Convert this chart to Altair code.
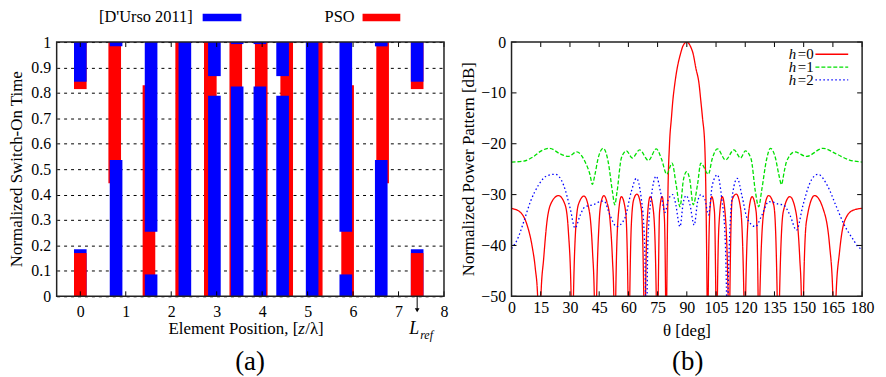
import altair as alt
import pandas as pd

FONT = "Liberation Serif"

# ---------------- Panel (a) data ----------------
durso_pos = [0.0, 0.787, 1.557, 2.30, 2.95, 3.45, 3.95, 4.45, 5.10, 5.84, 6.62, 7.41]
pso_pos = [0.0, 0.757, 1.51, 2.23, 2.86, 3.42, 3.98, 4.54, 5.19, 5.88, 6.65, 7.41]
durso_on = [0.844, 0.983, 0.254, 0.0, 0.866, 0.992, 0.992, 0.866, 0.0, 0.254, 0.983, 0.844]
durso_off = [0.185, 0.536, 0.086, 1.0, 0.789, 0.825, 0.825, 0.789, 1.0, 0.086, 0.536, 0.185]
pso_on = [0.815, 0.445, 0.0, 0.0, 0.0, 0.0, 0.0, 0.0, 0.0, 0.0, 0.445, 0.815]
pso_off = [0.17, 1.0, 0.83, 1.0, 1.0, 1.0, 1.0, 1.0, 1.0, 0.83, 1.0, 0.17]
a_xticks = [0, 1, 2, 3, 4, 5, 6, 7, 8]
a_yticks = [0, 0.1, 0.2, 0.3, 0.4, 0.5, 0.6, 0.7, 0.8, 0.9, 1]
lref_pos = 7.41
series_names = ["[D'Urso 2011]", "PSO"]
series_colors = ["#0000ff", "#ff0000"]

# ---------------- Panel (b) data ----------------
h0_points = [(0, -32.7), (4.6, -33.5), (8, -36), (10.5, -40), (12.2, -44.5), (13.4, -50), (14.2, -65), (15.1, -50),
             (16.5, -42.6), (18.2, -35.3), (20.7, -31.4), (24.1, -30.2), (27.5, -32), (29.2, -37.3), (30.6, -50),
             (31.2, -65), (31.8, -50), (32.6, -39.3), (34.3, -32), (37.2, -30.3), (40, -33.4), (41.6, -41.3),
             (42.5, -50), (43.1, -65), (43.7, -50), (44.9, -36), (46, -31.5), (47.4, -30.2), (49, -31.5),
             (50.5, -34.7), (51.8, -42.6), (52.5, -50), (53, -65), (53.5, -50), (54.7, -34.7), (56.4, -30.4),
             (58.6, -33.4), (59.8, -50), (60.2, -65), (60.7, -50), (61.5, -36), (62.7, -31), (64.4, -29.9),
             (66.6, -32.7), (67.9, -50), (68.3, -65), (68.8, -50), (69.5, -36), (71.2, -30.4), (72.9, -33.4),
             (74.3, -50), (74.8, -65), (75.3, -50), (76, -33.4), (77.3, -30.4), (78.5, -34.7), (79.1, -50),
             (79.4, -65), (79.7, -50), (80.3, -30), (81.1, -20.2), (82.1, -14.9), (82.8, -11.6), (83.8, -8.3),
             (85.1, -5.05), (86.7, -2.4), (88, -0.8), (90, 0), (91.8, -0.8), (93.3, -2.4), (94.6, -5.05),
             (96.3, -8.3), (97.2, -11.6), (98.05, -14.9), (99.2, -20.2), (99.8, -30), (100.4, -50), (100.7, -65),
             (101.0, -50), (101.8, -33.4), (102.8, -30.4), (104.2, -33.4), (104.9, -50), (105.3, -65),
             (105.7, -50), (106.5, -36), (108.2, -30.4), (109.6, -33.4), (111.2, -50), (111.7, -65), (112.1, -50),
             (113.3, -31), (115.4, -29.9), (117.6, -32.7), (119.3, -50), (119.8, -65), (120.2, -50),
             (121.8, -33.4), (123.5, -30.4), (125.6, -33.4), (126.6, -50), (127, -65), (127.5, -50),
             (129.5, -33.4), (132, -30.2), (134.6, -32), (135.6, -37.3), (136.4, -50), (137, -65), (137.6, -50),
             (139.5, -33.4), (142.9, -30.4), (146, -33.4), (148, -42.6), (148.8, -50), (149.3, -65), (149.9, -50),
             (151.4, -35.3), (155.6, -30.2), (159.9, -32.7), (163.3, -40), (165, -50), (165.8, -65), (166.6, -50),
             (168.4, -41.3), (170.9, -35.3), (175.2, -33.1), (180, -32.7)]

h1_points = [(0, -23.6), (6.3, -23.4), (11.4, -22.5), (14.8, -21.5), (19.6, -20.9), (25, -22), (29.2, -22.5),
             (33.5, -21.6), (37.7, -23.5), (40.3, -26.1), (41.5, -28), (42.8, -26.1), (44.5, -22.8), (47.1, -20.9),
             (49.6, -23.5), (51.8, -29.4), (53, -32), (54.2, -29.4), (56.4, -22.8), (59, -21.4), (62, -22.8),
             (65.8, -21.2), (70.3, -23.3), (74.3, -21), (77, -23), (79.7, -26), (82.4, -23.8), (84.5, -28),
             (86.5, -32.4), (88.3, -27), (89.9, -25.5), (91.5, -27), (93.3, -32), (95.5, -28), (97.2, -23.8),
             (101.1, -26), (103, -23), (105.7, -21), (109.9, -23.2), (114.2, -21.2), (117.6, -22.8),
             (120.1, -21.4), (123, -23), (125.2, -29.4), (126.9, -32.4), (128.5, -29), (131, -23), (132.9, -20.9),
             (135.5, -22.8), (137.2, -26), (138.6, -28), (140, -25.5), (141.2, -23.5), (145.4, -21.6),
             (151.4, -22.5), (159.9, -20.9), (166.7, -22), (173.5, -23.2), (180, -23.6)]

h2_points = [(0, -40.6), (2.9, -38.9), (6.3, -35.3), (9.7, -31.4), (13.9, -28.1), (18.2, -26.3), (22.4, -26),
             (26.7, -28.1), (30.1, -32.7), (32.6, -36.6), (35.3, -34), (37.7, -32.4), (42, -32), (46.2, -31.3),
             (47.5, -31.3), (50.5, -34), (53.9, -36.3), (58.1, -34.7), (61.5, -29.4), (64.1, -26.8), (66.6, -30.7),
             (68.3, -39.3), (68.8, -50), (69.2, -62), (69.6, -50), (70, -39.3), (71.7, -30.7), (74.3, -26.4),
             (76.8, -30), (78.8, -33.5), (80.5, -31), (82.8, -30), (84.1, -31.5), (86.5, -36.3), (88.2, -31.5),
             (89.7, -30.2), (91.6, -32), (93.8, -36), (95.5, -31.5), (97.2, -30), (99.3, -31), (101.1, -34),
             (103.1, -28.1), (105.7, -26.1), (107.9, -30.7), (109.6, -37.9), (110.4, -50), (110.8, -62),
             (111.2, -50), (112, -37.9), (113.7, -29.4), (115.9, -26.8), (118.4, -30.4), (121, -34.7),
             (125.2, -36.3), (128.6, -34), (132, -31.4), (134.4, -31.5), (137.1, -31.9), (139.5, -32),
             (142.9, -34), (146.3, -37), (149.7, -32), (153.1, -27.8), (157.3, -26), (162.4, -28.4),
             (166.7, -32.3), (170.9, -36), (175.2, -38.7), (178.7, -40.5), (180, -40.6)]

b_xticks = [0, 15, 30, 45, 60, 75, 90, 105, 120, 135, 150, 165, 180]
b_yticks = [0, -10, -20, -30, -40, -50]
curve_names = ["h=0", "h=1", "h=2"]
curve_colors = ["#ff0000", "#00e000", "#0000ff"]
curve_dash = [[1, 0], [4, 2], [1.5, 2.5]]

one = pd.DataFrame({"k": [0]})
LAB = 16      # tick label size
TIT = 17      # axis title size


def txt(s, x, y, size=TIT, align="center", style="normal", angle=0, baseline="middle"):
    kw = dict(text=s, font=FONT, fontSize=size, align=align, baseline=baseline,
              fontStyle=style, color="black")
    if angle:
        kw["angle"] = angle
    return alt.Chart(one).mark_text(**kw).encode(x=alt.value(x), y=alt.value(y))


def border(w, h):
    return alt.Chart(one).mark_rect(fillOpacity=0, stroke="#222222", strokeWidth=1.5).encode(
        x=alt.value(0), x2=alt.value(w), y=alt.value(0), y2=alt.value(h))


axis_common = dict(title=None, labelFont=FONT, labelFontSize=LAB, labelColor="black",
                   ticks=False, domain=False, labelOverlap=False, labelFlush=False, labelBound=False)

# ---------------- Panel (a) ----------------
WA, HA = 390, 256
HW = 0.139
xa = alt.Scale(domain=[-0.52, 8], nice=False, zero=False)
ya = alt.Scale(domain=[0, 1], nice=False, zero=False)
ax_a_x = alt.Axis(values=a_xticks, grid=False, labelPadding=7, **axis_common)
ax_a_y = alt.Axis(values=a_yticks, format="~g", grid=True, gridDash=[3, 4], gridColor="#000000",
                  gridWidth=1, labelPadding=6, **axis_common)


def pieces(pos, on, off, name):
    main, wrap = [], []
    for p, a, b in zip(pos, on, off):
        if b > a:
            main.append(dict(x0=p - HW, x1=p + HW, y0=a, y1=b, s=name))
        else:
            main.append(dict(x0=p - HW, x1=p + HW, y0=a, y1=1.0, s=name))
            wrap.append(dict(x0=p - HW, x1=p + HW, y0=0.0, y1=b, s=name))
    return main, wrap


d_main, d_wrap = pieces(durso_pos, durso_on, durso_off, series_names[0])
p_main, p_wrap = pieces(pso_pos, pso_on, pso_off, series_names[1])
rects = pd.DataFrame(p_main + d_main + d_wrap + p_wrap)

bars = alt.Chart(rects).mark_rect().encode(
    x=alt.X("x0:Q", scale=xa, axis=ax_a_x),
    x2="x1:Q",
    y=alt.Y("y0:Q", scale=ya, axis=ax_a_y),
    y2="y1:Q",
    color=alt.Color("s:N", scale=alt.Scale(domain=series_names, range=series_colors), legend=None),
)

xt_a = pd.DataFrame({"t": a_xticks})
ticks_a_bot = alt.Chart(xt_a).mark_rule(color="black").encode(
    x=alt.X("t:Q", scale=xa, axis=ax_a_x), y=alt.value(HA), y2=alt.value(HA - 5))
ticks_a_top = alt.Chart(xt_a).mark_rule(color="black").encode(
    x=alt.X("t:Q", scale=xa, axis=ax_a_x), y=alt.value(0), y2=alt.value(5))

lref_df = pd.DataFrame({"x": [lref_pos]})
arrow = alt.Chart(lref_df).mark_rule(color="black").encode(
    x=alt.X("x:Q", scale=xa, axis=ax_a_x), y=alt.value(HA), y2=alt.value(HA + 13))
arrow_head = alt.Chart(lref_df).mark_point(shape="triangle-down", filled=True, size=22, color="black",
                                            opacity=1).encode(
    x=alt.X("x:Q", scale=xa, axis=ax_a_x), y=alt.value(HA + 14))
l_text = alt.Chart(lref_df).mark_text(text="L", font=FONT, fontSize=18, fontStyle="italic", dx=-3,
                                      baseline="middle", color="black").encode(
    x=alt.X("x:Q", scale=xa, axis=ax_a_x), y=alt.value(289))
ref_text = alt.Chart(lref_df).mark_text(text="ref", font=FONT, fontSize=12, fontStyle="italic", dx=3,
                                        align="left", baseline="middle", color="black").encode(
    x=alt.X("x:Q", scale=xa, axis=ax_a_x), y=alt.value(295))

leg_a = [
    txt(series_names[0], 137, -25, size=16.5, align="right"),
    alt.Chart(one).mark_rect(color=series_colors[0]).encode(
        x=alt.value(147), x2=alt.value(186), y=alt.value(-28.5), y2=alt.value(-21)),
    txt(series_names[1], 300, -25, size=16.5, align="right"),
    alt.Chart(one).mark_rect(color=series_colors[1]).encode(
        x=alt.value(308), x2=alt.value(346), y=alt.value(-28.5), y2=alt.value(-21)),
]

titles_a = [
    txt("Normalized Switch-On Time", -39.5, 128, angle=270),
    txt("Element Position, [", 243.3, 289, align="right"),
    txt("z", 243.3, 289, align="left", style="italic"),
    txt("/λ]", 250.3, 289, align="left"),
    txt("(a)", 194.7, 322, size=27),
]

# invisible anchor fixing the top-left corner of the drawing
anchor = alt.Chart(one).mark_rect(opacity=0).encode(
    x=alt.value(-48), x2=alt.value(-47), y=alt.value(-33), y2=alt.value(-32))

panel_a = alt.layer(bars, ticks_a_bot, ticks_a_top, border(WA, HA), arrow, arrow_head, l_text, ref_text,
                    *leg_a, *titles_a, anchor).properties(width=WA, height=HA)

# ---------------- Panel (b) ----------------
WB, HB = 353, 256
xb = alt.Scale(domain=[0, 180], nice=False, zero=False)
yb = alt.Scale(domain=[-50, 0], nice=False, zero=False)
ax_b_x = alt.Axis(values=b_xticks, grid=False, labelPadding=3, **axis_common)
ax_b_y = alt.Axis(values=b_yticks, grid=False, labelPadding=6, **axis_common)

line_layers = []
for i, (name, pts) in enumerate(zip(curve_names, [h0_points, h1_points, h2_points])):
    df = pd.DataFrame(pts, columns=["theta", "db"])
    line_layers.append(
        alt.Chart(df).mark_line(clip=True, color=curve_colors[i], strokeWidth=1.3,
                                strokeDash=curve_dash[i], interpolate="monotone").encode(
            x=alt.X("theta:Q", scale=xb, axis=ax_b_x),
            y=alt.Y("db:Q", scale=yb, axis=ax_b_y),
            order="theta:Q"))

xt_b = pd.DataFrame({"t": b_xticks})
yt_b = pd.DataFrame({"t": b_yticks})
ticks_b = [
    alt.Chart(xt_b).mark_rule(color="black").encode(
        x=alt.X("t:Q", scale=xb, axis=ax_b_x), y=alt.value(HB), y2=alt.value(HB - 5)),
    alt.Chart(xt_b).mark_rule(color="black").encode(
        x=alt.X("t:Q", scale=xb, axis=ax_b_x), y=alt.value(0), y2=alt.value(5)),
    alt.Chart(yt_b).mark_rule(color="black").encode(
        y=alt.Y("t:Q", scale=yb, axis=ax_b_y), x=alt.value(0), x2=alt.value(5)),
    alt.Chart(yt_b).mark_rule(color="black").encode(
        y=alt.Y("t:Q", scale=yb, axis=ax_b_y), x=alt.value(WB), x2=alt.value(WB - 5)),
]

leg_b = []
for i, yy in enumerate([12.3, 25.3, 38.0]):
    leg_b.append(txt("h", 286.7, yy, size=15, align="right", style="italic"))
    leg_b.append(txt(curve_names[i][1:], 288.2, yy, size=15, align="left"))
    leg_b.append(alt.Chart(one).mark_rule(color=curve_colors[i], strokeWidth=1.3,
                                          strokeDash=curve_dash[i]).encode(
        x=alt.value(306), x2=alt.value(339), y=alt.value(yy)))

titles_b = [
    txt("Normalized Power Pattern [dB]", -42.6, 128, angle=270),
    txt("θ [deg]", 176.7, 290.7),
    txt("(b)", 177.4, 322, size=27),
]

panel_b = alt.layer(*line_layers, *ticks_b, border(WB, HB), *leg_b, *titles_b).properties(width=WB, height=HB)

chart = alt.hconcat(panel_a, panel_b, spacing=68, bounds="flush").properties(
    autosize=alt.AutoSizeParams(type="pad"),
    padding={"left": 0, "top": 0, "right": 4, "bottom": 4},
).configure_view(stroke=None)

chart.save("out.html", embed_options={"renderer": "svg", "actions": False})
